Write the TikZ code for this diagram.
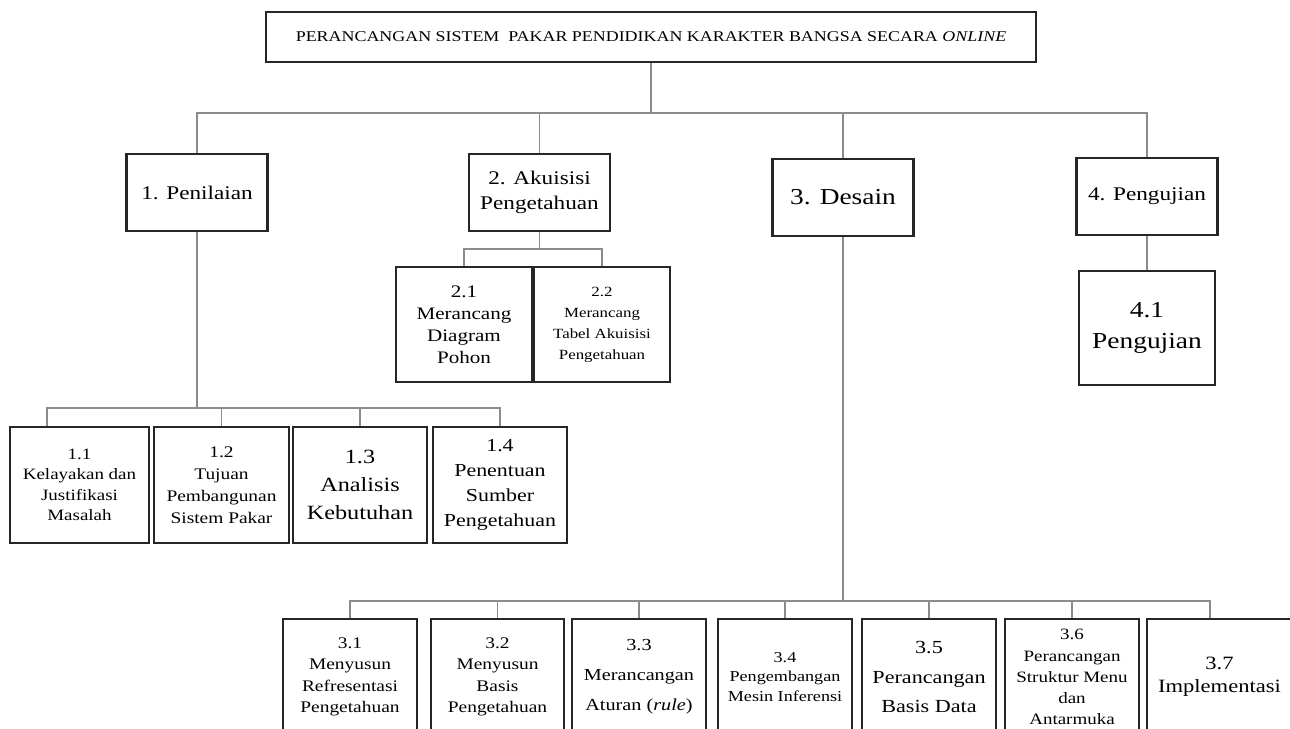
\documentclass[tikz,border=0pt]{standalone}
\usepackage{fontspec}
\setmainfont{Liberation Serif}[FakeStretch=1.2]
\usetikzlibrary{calc}
\tikzset{
	kotak/.style n args={2}{draw=black!85, line width=1.3pt, fill=white, align=center,
		inner sep=0pt, minimum width=#1*0.2mm, minimum height=#2*0.2mm},
	garis/.style={draw=black!45, line width=0.8pt},
}
\newcommand{\huruf}[2]{\fontsize{#1}{#2}\selectfont}

\begin{document}
\begin{tikzpicture}[x=0.2mm,y=-0.2mm]
	\useasboundingbox (0,0) rectangle (1290,728);
	\clip (0,0) rectangle (1290,728);

	\node[kotak={770}{50}, font=\huruf{8.5}{10}] (judul) at (651,37)
	{PERANCANGAN SISTEM~~PAKAR PENDIDIKAN KARAKTER BANGSA SECARA \textit{ONLINE}};

	\node[kotak={141}{77}, font=\huruf{11}{14}] (p1) at (197,192.5) {1. Penilaian};
	\node[kotak={141}{77}, font=\huruf{11}{14.2}] (p2) at (539.5,192.5) {2. Akuisisi\\Pengetahuan};
	\node[kotak={141}{77}, font=\huruf{13}{16}] (p3) at (843,197.5) {3. Desain};
	\node[kotak={141}{77}, font=\huruf{11}{14}] (p4) at (1147,196.5) {4. Pengujian};

	\node[kotak={136}{115}, font=\huruf{10}{12.5}] (p21) at (464,324.5) {2.1\\Merancang\\Diagram\\Pohon};
	\node[kotak={136}{115}, font=\huruf{8}{12}] (p22) at (602,324.5) {2.2\\Merancang\\Tabel Akuisisi\\Pengetahuan};
	\node[kotak={136}{114}, font=\huruf{13}{17.6}] (p41) at (1147,328) {4.1\\Pengujian};

	\node[kotak={139}{116}, font=\huruf{9}{11.6}] (p11) at (79.5,485) {1.1\\Kelayakan dan\\Justifikasi\\Masalah};
	\node[kotak={135}{116}, font=\huruf{9.2}{12.5}] (p12) at (221.5,485) {1.2\\Tujuan\\Pembangunan\\Sistem Pakar};
	\node[kotak={134}{116}, font=\huruf{11.5}{16}] (p13) at (360,485) {1.3\\Analisis\\Kebutuhan};
	\node[kotak={134}{116}, font=\huruf{10.4}{14.2}] (p14) at (500,485) {1.4\\Penentuan\\Sumber\\Pengetahuan};

	\node[kotak={134}{116}, font=\huruf{9.2}{12.2}] (p31) at (350,677) {3.1\\Menyusun\\Refresentasi\\Pengetahuan};
	\node[kotak={133}{116}, font=\huruf{9.2}{12.2}] (p32) at (497.5,677) {3.2\\Menyusun\\Basis\\Pengetahuan};
	\node[kotak={134}{116}, font=\huruf{9.6}{17}] (p33) at (639,677) {3.3\\Merancangan\\Aturan (\textit{rule})};
	\node[kotak={134}{116}, font=\huruf{8.6}{11.3}] (p34) at (785,677) {3.4\\Pengembangan\\Mesin Inferensi};
	\node[kotak={134}{116}, font=\huruf{10.5}{17}] (p35) at (929,677) {3.5\\Perancangan\\Basis Data};
	\node[kotak={134}{116}, font=\huruf{9}{12}] (p36) at (1072,677) {3.6\\Perancangan\\Struktur Menu\\dan\\Antarmuka};
	\node[kotak={145}{116}, font=\huruf{10.7}{13}] (p37) at (1219.5,677) {3.7\\Implementasi};

	\draw[garis] (judul.south) -- ++(0,50) -| (p1.north);
	\draw[garis] (judul.south) -- ++(0,50) -| (p2.north);
	\draw[garis] (judul.south) -- ++(0,50) -| (p3.north);
	\draw[garis] (judul.south) -- ++(0,50) -| (p4.north);

	\draw[garis] (p1.south) -- ++(0,176) -| ([xshift=-6.5mm]p11.north);
	\draw[garis] (p1.south) -- ++(0,176) -| (p12.north);
	\draw[garis] (p1.south) -- ++(0,176) -| (p13.north);
	\draw[garis] (p1.south) -- ++(0,176) -| (p14.north);

	\draw[garis] (p2.south) -- ++(0,17) -| (p21.north);
	\draw[garis] (p2.south) -- ++(0,17) -| (p22.north);

	\draw[garis] (p4.south) -- (p41.north);

	\draw[garis] (p3.south) -- ++(0,364) -| (p31.north);
	\draw[garis] (p3.south) -- ++(0,364) -| (p32.north);
	\draw[garis] (p3.south) -- ++(0,364) -| (p33.north);
	\draw[garis] (p3.south) -- ++(0,364) -| (p34.north);
	\draw[garis] (p3.south) -- ++(0,364) -| (p35.north);
	\draw[garis] (p3.south) -- ++(0,364) -| (p36.north);
	\draw[garis] (p3.south) -- ++(0,364) -| ([xshift=-1.9mm]p37.north);
\end{tikzpicture}
\end{document}
